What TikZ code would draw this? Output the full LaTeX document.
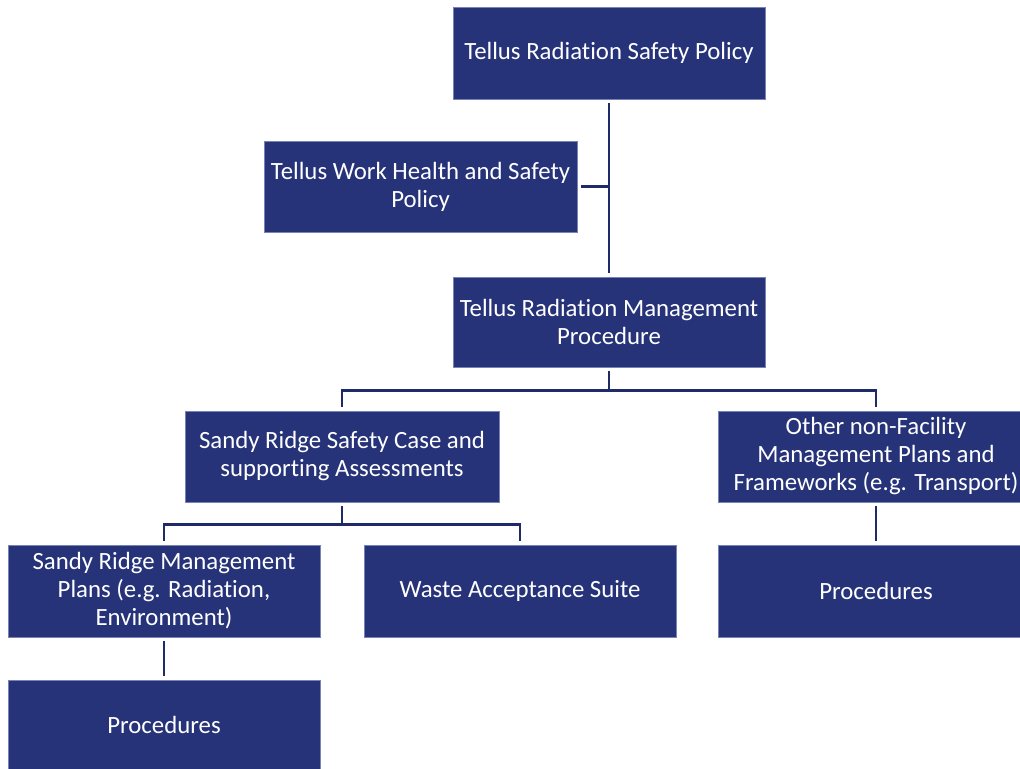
\documentclass[tikz,border=0pt]{standalone}
\usepackage{fontspec}
\setmainfont{Carlito}[Ligatures=NoCommon]
\begin{document}
\definecolor{navy}{RGB}{39,51,121}
\definecolor{navyline}{RGB}{31,42,104}
\definecolor{navyedge}{RGB}{120,130,180}
\begin{tikzpicture}[x=1bp,y=-1bp,
  box/.style={rectangle, fill=navy, draw=navyedge, line width=0.6bp,
    text=white, align=center, inner sep=0pt,
    font=\fontsize{24.8bp}{28bp}\selectfont},
  link/.style={draw=navyline, line width=2.6bp, shorten <=3.5bp, shorten >=3.5bp}]
\useasboundingbox (0,0) rectangle (1020,769);
\node[box, minimum width=312bp, minimum height=92bp] (rsp) at (609,53) {Tellus Radiation Safety Policy};
\node[box, minimum width=313bp, minimum height=91bp] (whs) at (420.5,186.5) {Tellus Work Health and Safety\\Policy};
\node[box, minimum width=312bp, minimum height=90bp] (rmp) at (609,322) {Tellus Radiation Management\\Procedure};
\node[box, minimum width=314bp, minimum height=91bp] (sc) at (342,456.5) {Sandy Ridge Safety Case and\\supporting Assessments};
\node[box, minimum width=316bp, minimum height=91bp] (oth) at (876,456.5) {Other non-Facility\\Management Plans and\\Frameworks (e.g. Transport)};
\node[box, minimum width=312bp, minimum height=92bp] (srmp) at (164,591) {Sandy Ridge Management\\Plans (e.g. Radiation,\\Environment)};
\node[box, minimum width=312bp, minimum height=92bp] (was) at (520,591) {Waste Acceptance Suite};
\node[box, minimum width=316bp, minimum height=92bp] (prr) at (876,591) {Procedures};
\node[box, minimum width=312bp, minimum height=90bp] (prl) at (164,725) {Procedures};

\coordinate (whsj) at (609,186.5);
\draw[link] (rsp.south) -- (rmp.north);
\draw[link, shorten >=0pt] (whs.east) -- (whsj);
\draw[link] (rmp.south) -- ++(0,23) -| (oth.north);
\draw[link] (rmp.south) -- ++(0,23) -| (sc.north);
\draw[link] (sc.south) -- ++(0,22) -| (srmp.north);
\draw[link] (sc.south) -- ++(0,22) -| (was.north);
\draw[link] (oth.south) -- (prr.north);
\draw[link] (srmp.south) -- (prl.north);
\end{tikzpicture}
\end{document}
